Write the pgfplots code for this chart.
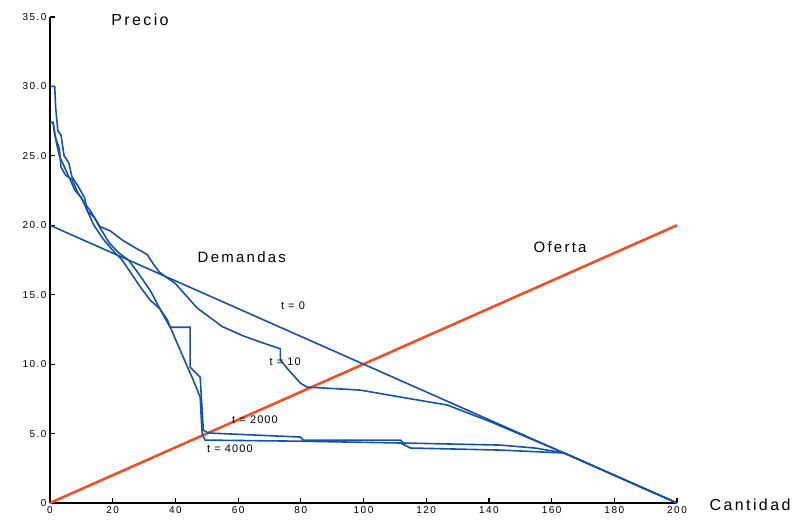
\documentclass[border=0pt]{standalone}
\usepackage{fontspec}
\setmainfont{Liberation Sans}
\usepackage{pgfplots}
\pgfplotsset{compat=1.18}
\definecolor{dblue}{RGB}{22,82,170}
\definecolor{ored}{RGB}{240,80,40}
\begin{document}
\begin{tikzpicture}
\begin{axis}[
 scale only axis, width=627pt, height=486pt,
 xmin=0, xmax=200, ymin=0, ymax=35,
 axis lines*=left,
 axis line style={line width=1.6pt, black},
 xtick={0,20,...,200}, ytick={0,5,...,35},
 yticklabels={0,5.0,10.0,15.0,20.0,25.0,30.0,35.0},
 tick align=inside, major tick length=5pt,
 tick style={line width=1.2pt, black},
 /pgf/number format/assume math mode=true,
 ticklabel style={font=\addfontfeature{LetterSpace=15}\fontsize{10}{12}\selectfont},
 clip=false,
]
% Oferta
\addplot[ored, line width=2.6pt] coordinates {(0,0) (200,20)};
% t = 0
\addplot[dblue, line width=1.6pt] coordinates {(0,20) (200,0)};
% t = 10
\addplot[dblue, line width=1.6pt] coordinates {
(0,27.4) (1,27.4) (1.5,26.5) (3,25.5) (3.5,24.2) (5,23.6) (7,23.3) (9,22.3) (11,21.6)
(13,21) (16,19.9) (19.2,19.6) (23.3,18.9) (27,18.4) (31,17.9) (33,17.2) (35,16.6)
(40,15.8) (47,14.03) (55,12.7) (62,12.0) (67,11.6) (73.5,11.1) (73.5,10.3) (76,9.6)
(79.9,8.63) (82,8.35) (99,8.13) (110,7.7) (126.8,7.05) (140,5.9) (164,3.6) (200,0)};
% t = 2000
\addplot[dblue, line width=1.6pt] coordinates {
(0,30) (1.5,30) (1.8,28.5) (2.5,26.8) (3.5,26.5) (4.5,25) (6,24.5) (7,23.5) (9,22.8)
(11,22) (12,21) (14,20.6) (16,19.8) (19,18.7) (22,18) (25,17.5) (28,16.6) (32,15.3)
(35,14) (38.3,12.66) (44.7,12.66) (44.7,9.78) (47.9,9.06) (48.9,5.25) (50.5,5.04)
(79.9,4.75) (80.8,4.53) (111.8,4.53) (112.7,4.32) (143.8,4.17) (155,3.95) (164,3.6) (200,0)};
% t = 4000
\addplot[dblue, line width=1.6pt] coordinates {
(0,27.4) (1,27.4) (2,26) (3,25) (4,24.5) (6,23.5) (8,22.5) (10,22) (12,21) (14,20)
(17,19) (20,18.2) (23,17.5) (26,16.5) (29,15.5) (32,14.6) (35,14) (37.4,13.2) (40,11.8)
(42.5,10.5) (45.7,8.85) (47.9,7.63) (48.4,5.5) (48.6,4.9) (49.5,4.53) (80,4.45)
(111.8,4.32) (115,3.96) (143.8,3.81) (164,3.6) (200,0)};
\node[font=\addfontfeature{LetterSpace=15}\fontsize{16}{18}\selectfont] at (axis cs:28.7,34.8) {Precio};
\node[font=\addfontfeature{LetterSpace=15}\fontsize{16}{18}\selectfont] at (axis cs:223.3,-0.14) {Cantidad};
\node[font=\addfontfeature{LetterSpace=15}\fontsize{15}{18}\selectfont] at (axis cs:61.2,17.7) {Demandas};
\node[font=\addfontfeature{LetterSpace=15}\fontsize{15}{18}\selectfont] at (axis cs:162.7,18.4) {Oferta};
\node[font=\addfontfeature{LetterSpace=10}\fontsize{11}{13}\selectfont] at (axis cs:77.5,14.2) {t = 0};
\node[font=\addfontfeature{LetterSpace=10}\fontsize{11}{13}\selectfont] at (axis cs:75,10.15) {t = 10};
\node[font=\addfontfeature{LetterSpace=10}\fontsize{11}{13}\selectfont] at (axis cs:65.4,6.0) {t = 2000};
\node[font=\addfontfeature{LetterSpace=10}\fontsize{11}{13}\selectfont] at (axis cs:57.4,3.9) {t = 4000};
\end{axis}
\pgfresetboundingbox
\path (-50pt,-19pt) rectangle (748pt,503pt);
\end{tikzpicture}
\end{document}
